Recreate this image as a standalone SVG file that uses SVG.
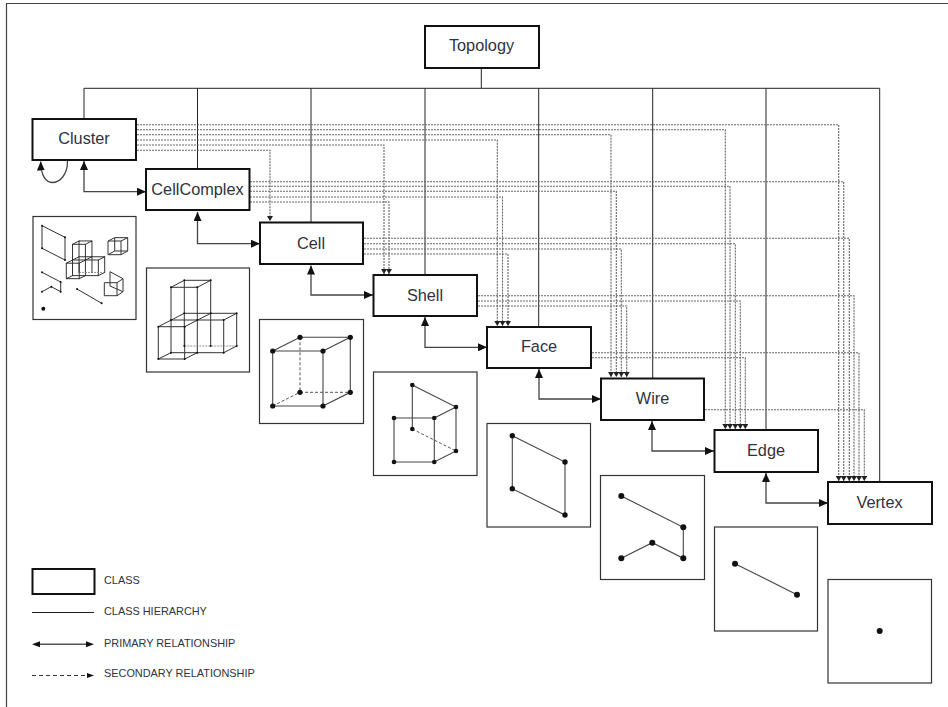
<svg xmlns="http://www.w3.org/2000/svg" width="948" height="707" viewBox="0 0 948 707">
<style>
.box{fill:#fff;stroke:#111;stroke-width:2}
.pic{fill:#fff;stroke:#333;stroke-width:1.2}
.lbl{font-family:"Liberation Sans",Arial,sans-serif;font-size:16.3px;fill:#2f3340;text-anchor:middle}
.leg{font-family:"Liberation Sans",Arial,sans-serif;font-size:10.9px;fill:#2f3340}
.h{fill:none;stroke:#222;stroke-width:1}
.p{fill:none;stroke:#444;stroke-width:1.3;marker-start:url(#big);marker-end:url(#big)}
.s{fill:none;stroke:#666;stroke-width:1.1;stroke-dasharray:2 1;marker-end:url(#small)}
.e{fill:none;stroke:#444;stroke-width:1.1}
.t{fill:none;stroke:#333;stroke-width:1;vector-effect:non-scaling-stroke}
.d{fill:none;stroke:#555;stroke-width:1;stroke-dasharray:3 2}
.t2{fill:none;stroke:#777;stroke-width:.8;stroke-dasharray:2 1;vector-effect:non-scaling-stroke}
</style>
<defs>
<marker id="big" markerUnits="userSpaceOnUse" markerWidth="9" markerHeight="8" refX="9" refY="4" orient="auto-start-reverse"><path d="M0 0L9 4L0 8Z" fill="#111"/></marker>
<marker id="small" markerUnits="userSpaceOnUse" markerWidth="5" markerHeight="6" refX="5" refY="3" orient="auto"><path d="M0 0L5 3L0 6Z" fill="#222"/></marker>
<g id="complex-shape">
<path class="t" d="M171 287.3H197.3L210.7 280.3H184.3ZM171 287.3V352.7M197.3 287.3V352.7M184.3 280.3V346M210.7 280.3V346M158.3 326.7L184.3 313.3H236.7L223.7 320H171M184.7 326.7L210.7 313.3M158.3 326.7H184.7V359M158.3 326.7V359H184.7L197.3 352.7H223.7L236.7 346V313.3M223.7 320V352.7M158.3 359L171 352.7H197.3"/>
<path class="t2" d="M184.3 346H236.7"/>
<g fill="#111"><circle cx="171" cy="287.3" r="1"/><circle cx="197.3" cy="287.3" r="1"/><circle cx="210.7" cy="280.3" r="1"/><circle cx="184.3" cy="280.3" r="1"/><circle cx="158.3" cy="326.7" r="1"/><circle cx="184.7" cy="326.7" r="1"/><circle cx="184.3" cy="313.3" r="1"/><circle cx="210.7" cy="313.3" r="1"/><circle cx="236.7" cy="313.3" r="1"/><circle cx="223.7" cy="320" r="1"/><circle cx="171" cy="320" r="1"/><circle cx="197.3" cy="320" r="1"/><circle cx="158.3" cy="359" r="1"/><circle cx="184.7" cy="359" r="1"/><circle cx="197.3" cy="352.7" r="1"/><circle cx="171" cy="352.7" r="1"/><circle cx="223.7" cy="352.7" r="1"/><circle cx="236.7" cy="346" r="1"/><circle cx="184.3" cy="346" r="1"/><circle cx="210.7" cy="346" r="1"/></g>
</g>
</defs>
<rect width="948" height="707" fill="#fff"/>
<path d="M948 3.5H6.5V707" fill="none" stroke="#444" stroke-width="1.2"/>

<g id="connectors">
<g id="hierarchy">
<path class="h" d="M481.3 68V88.3M84 119V88.3H879.7V482M197.5 88.3V169M311 88.3V222M425 88.3V275M538.7 88.3V327M652.7 88.3V378M766 88.3V430"/>
</g>
<g id="secondary">
<path class="s" d="M137 124.7H838.7V481"/>
<path class="s" d="M137 129.7H725.3V429"/>
<path class="s" d="M137 134.7H611V377"/>
<path class="s" d="M137 140H497.3V326"/>
<path class="s" d="M137 145H384V274"/>
<path class="s" d="M137 150.3H270V221"/>
<path class="s" d="M250 181.7H843.7V481"/>
<path class="s" d="M250 186.3H730V429"/>
<path class="s" d="M250 191.3H616.3V377"/>
<path class="s" d="M250 197H502.5V326"/>
<path class="s" d="M250 202H389V274"/>
<path class="s" d="M364 238.3H849.3V481"/>
<path class="s" d="M364 243.7H735.3V429"/>
<path class="s" d="M364 249H621.3V377"/>
<path class="s" d="M364 254H508V326"/>
<path class="s" d="M478 295.7H854V481"/>
<path class="s" d="M478 301H740.3V429"/>
<path class="s" d="M478 306H626.7V377"/>
<path class="s" d="M592 352.7H859V481"/>
<path class="s" d="M592 357.7H745.3V429"/>
<path class="s" d="M705 409.7H864.3V481"/>
</g>
<g id="primary">
<path class="p" style="marker-start:none" d="M67.5 161C67.5 175 60 182.5 52 182.5C46 182.5 41 176 40.7 161.5"/>
<path class="p" d="M84 161V191.7H146"/>
<path class="p" d="M197.5 212V243.7H260"/>
<path class="p" d="M311 265.5V295H373"/>
<path class="p" d="M425 317V347.3H487"/>
<path class="p" d="M539 369V399H601"/>
<path class="p" d="M652 421V451H714"/>
<path class="p" d="M766 473V503H828"/>
</g>
</g>

<g id="topology"><rect class="box" x="425" y="26" width="114" height="42"/><text class="lbl" x="481.5" y="51">Topology</text></g>
<g id="cluster"><rect class="box" x="32.500" y="119" width="103.500" height="41"/><text class="lbl" x="84" y="144">Cluster</text></g>
<g id="cellcomplex"><rect class="box" x="146" y="169" width="103.500" height="41"/><text class="lbl" x="197.500" y="195">CellComplex</text></g>
<g id="cell"><rect class="box" x="260" y="222.500" width="103" height="41.500"/><text class="lbl" x="311" y="248.500">Cell</text></g>
<g id="shell"><rect class="box" x="373.500" y="275" width="103.500" height="41"/><text class="lbl" x="425" y="300.500">Shell</text></g>
<g id="face"><rect class="box" x="487" y="327" width="104" height="41"/><text class="lbl" x="539" y="352">Face</text></g>
<g id="wire"><rect class="box" x="601" y="378.500" width="103" height="41.500"/><text class="lbl" x="652.500" y="404">Wire</text></g>
<g id="edge"><rect class="box" x="714.500" y="430" width="103.500" height="42"/><text class="lbl" x="766" y="456">Edge</text></g>
<g id="vertex"><rect class="box" x="828" y="482" width="104" height="42"/><text class="lbl" x="879.500" y="507.500">Vertex</text></g>

<g id="cluster-picture">
<rect class="pic" x="33" y="216.500" width="103" height="103"/>
<use href="#complex-shape" transform="translate(-11.27 106.7) scale(.49 .479)"/>
<path class="t" d="M42 225.700L65 237.300V260L42 248.300ZM42 272.300L60.700 282V291.700L51.300 286.700L42 291.700M77 289L101.700 303.300M108 241H121V254.700H108ZM108 241L114.700 237.700H127.700L121 241M127.700 237.700V251L121 254.700M114.700 237.700V251H127.700M108 254.700L114.700 251M110 271.700L123 278.700V291.700L117 295.700H104.300V282.700H117V295.700M117 282.700L123 278.700M110 271.700V286L123 291.700"/>
<g fill="#111"><circle cx="42" cy="225.700" r="1"/><circle cx="65" cy="237.300" r="1"/><circle cx="65" cy="260" r="1"/><circle cx="42" cy="248.300" r="1"/><circle cx="42" cy="272.300" r="1"/><circle cx="60.700" cy="282" r="1"/><circle cx="60.700" cy="291.700" r="1"/><circle cx="51.300" cy="286.700" r="1"/><circle cx="42" cy="291.700" r="1"/><circle cx="77" cy="289" r="1"/><circle cx="101.700" cy="303.300" r="1"/><circle cx="43.300" cy="308.700" r="2"/></g>
</g>
<g id="cellcomplex-picture">
<rect class="pic" x="146.500" y="268" width="103" height="104"/>
<use href="#complex-shape"/>
</g>
<g id="cell-picture">
<rect class="pic" x="259.500" y="319.500" width="104" height="104"/>
<path class="e" d="M272.700 351H323V406H272.700ZM272.700 351L300 337.300H350.300V392.300L323 406M323 351L350.300 337.300"/>
<path class="d" d="M300 337.300V392.300H350.300M272.700 406L300 392.300"/>
<g fill="#111"><circle cx="272.700" cy="351" r="2.600"/><circle cx="323" cy="351" r="2.600"/><circle cx="272.700" cy="406" r="2.600"/><circle cx="323" cy="406" r="2.600"/><circle cx="300" cy="337.300" r="2.600"/><circle cx="350.300" cy="337.300" r="2.600"/><circle cx="300" cy="392.300" r="2.600"/><circle cx="350.300" cy="392.300" r="2.600"/></g>
</g>
<g id="shell-picture">
<rect class="pic" x="373.500" y="372" width="103.500" height="103.500"/>
<path class="e" d="M412.300 385L456 407V451L434.300 462H394V418H434.300V462M434.300 418L456 407M412.300 385V429"/>
<path class="d" d="M412.300 429L456 451"/>
<g fill="#111"><circle cx="412.300" cy="385" r="2.300"/><circle cx="456" cy="407" r="2.300"/><circle cx="394" cy="418" r="2.300"/><circle cx="434.300" cy="418" r="2.300"/><circle cx="394" cy="462" r="2.300"/><circle cx="434.300" cy="462" r="2.300"/><circle cx="412.300" cy="429" r="2.300"/><circle cx="456" cy="451" r="2.300"/></g>
</g>
<g id="face-picture">
<rect class="pic" x="487" y="423.500" width="103.500" height="103.500"/>
<path class="e" d="M512.300 435.700L565 462V515L512.300 488.700Z"/>
<g fill="#111"><circle cx="512.300" cy="435.700" r="2.700"/><circle cx="565" cy="462" r="2.700"/><circle cx="565" cy="515" r="2.700"/><circle cx="512.300" cy="488.700" r="2.700"/></g>
</g>
<g id="wire-picture">
<rect class="pic" x="600.500" y="475.500" width="104" height="104"/>
<path class="e" d="M621.300 496L683.300 527.300V558.300L652.300 542.700L621.300 558.300"/>
<g fill="#111"><circle cx="621.300" cy="496" r="3"/><circle cx="683.300" cy="527.300" r="3"/><circle cx="683.300" cy="558.300" r="3"/><circle cx="652.300" cy="542.700" r="3"/><circle cx="621.300" cy="558.300" r="3"/></g>
</g>
<g id="edge-picture">
<rect class="pic" x="714.500" y="527" width="103" height="104"/>
<path class="e" d="M735 563.700L797 594.700"/>
<g fill="#111"><circle cx="735" cy="563.700" r="3"/><circle cx="797" cy="594.700" r="3"/></g>
</g>
<g id="vertex-picture">
<rect class="pic" x="828" y="579.500" width="103.500" height="103.500"/>
<circle cx="879.700" cy="631" r="3" fill="#111"/>
</g>

<g id="legend">
<rect class="box" x="32.500" y="569" width="62" height="25"/>
<text class="leg" x="104" y="584">CLASS</text>
<path class="h" d="M32 612.500H94"/>
<text class="leg" x="104" y="615">CLASS HIERARCHY</text>
<path d="M36 644.300H90" fill="none" stroke="#555" stroke-width="1.500"/>
<path d="M32 644.300L40 641.300V647.300Z M94 644.300L86 641.300V647.300Z" fill="#111"/>
<text class="leg" x="104" y="646.500">PRIMARY RELATIONSHIP</text>
<path d="M32 675.500H90" fill="none" stroke="#333" stroke-width="1" stroke-dasharray="4 3"/>
<path d="M94 675.500L87 673V678Z" fill="#111"/>
<text class="leg" x="104" y="677">SECONDARY RELATIONSHIP</text>
</g>
</svg>
